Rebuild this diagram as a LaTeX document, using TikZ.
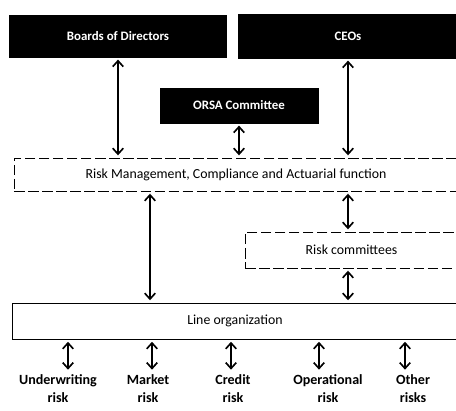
\documentclass[tikz,border=0pt]{standalone}
\usepackage{fontspec}
\setmainfont{Carlito}
\usetikzlibrary{positioning,arrows.meta}
\tikzset{
  boardbox/.style={draw=black,fill=black,text=white,inner sep=0pt,
            font=\fontsize{11}{13}\selectfont\bfseries},
  funcbox/.style={draw,line width=0.6pt,dash pattern=on 9pt off 3pt,
            fill=white,inner sep=0pt,font=\fontsize{11.8}{13}\selectfont},
  linebox/.style={draw,line width=0.7pt,fill=white,inner sep=0pt,
            font=\fontsize{11.8}{13}\selectfont},
  risklab/.style={align=center,inner sep=0pt,anchor=north,
            font=\fontsize{12}{16}\selectfont\bfseries},
  link/.style={<->,>={Straight Barb[length=5pt,width=9pt]},line width=1.4pt,
            shorten <=2pt,shorten >=2pt},
}
\begin{document}
\begin{tikzpicture}[x=0.03cm,y=-0.03cm]
  \useasboundingbox (0,0) rectangle (456,410);
  % --- governing bodies ---
  \node[boardbox,minimum width=6.51cm,minimum height=1.26cm] (boards) at (118,36) {Boards of Directors};
  \node[boardbox,minimum width=6.6cm,minimum height=1.32cm] (ceos) at (348,36) {CEOs};
  \node[boardbox,minimum width=4.74cm,minimum height=1.05cm] (orsa) at (239,105.5) {ORSA Committee};
  % --- functions ---
  \node[funcbox,minimum width=13.32cm,minimum height=0.99cm] (rmca) at (236,174.5)
       {Risk Management, Compliance and Actuarial function};
  \node[funcbox,minimum width=6.39cm,minimum height=1.08cm] (riskcom) at (351.5,250) {Risk committees};
  \node[linebox,minimum width=13.38cm,minimum height=1.08cm] (lineorg) at (235,321) {Line organization};
  % --- links ---
  \draw[link] (boards.south) -- (boards.south |- rmca.north);
  \draw[link] (ceos.south) -- (ceos.south |- rmca.north);
  \draw[link] (orsa.south) -- (orsa.south |- rmca.north);
  \draw[link] ([xshift=-2.58cm]rmca.south) -- ([xshift=-2.58cm]rmca.south |- lineorg.north);
  \draw[link] (ceos.south |- rmca.south) -- (ceos.south |- riskcom.north);
  \draw[link] (ceos.south |- riskcom.south) -- (ceos.south |- lineorg.north);
  % --- risk types ---
  \foreach \i/\ax/\lx/\lab in {1/68/58/{Underwriting\\risk},2/152/148/{Market\\risk},
                               3/231/233/{Credit\\risk},4/319/328/{Operational\\risk},
                               5/405/413/{Other\\risks}} {
    \node[risklab] (r\i) at (\lx,374) {\lab};
    \coordinate (a\i) at (\ax,372);
    \draw[link] (lineorg.south -| a\i) -- (a\i);
  }
\end{tikzpicture}
\end{document}
